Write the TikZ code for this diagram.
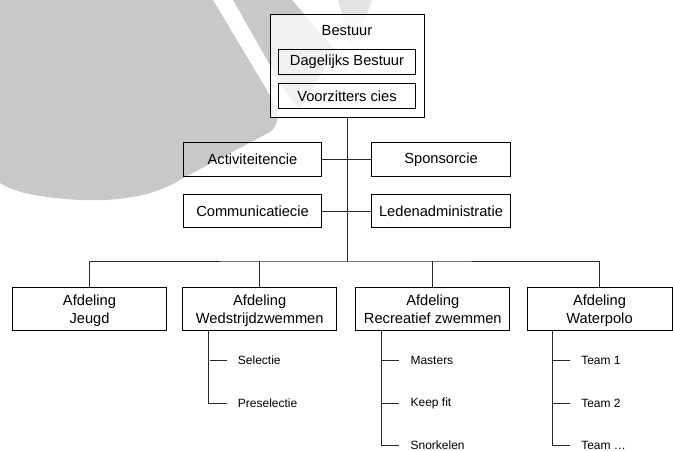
\documentclass[tikz,border=0pt]{standalone}
\usepackage{fontspec}
\setmainfont{Liberation Sans}
\usetikzlibrary{positioning}

\definecolor{wmark}{RGB}{200,200,200}
\definecolor{orgline}{RGB}{40,40,40}

\begin{document}
\begin{tikzpicture}[x=0.75pt,y=-0.75pt,
    box/.style={draw=black,line width=0.6pt,inner sep=0pt,align=center,
                font=\fontsize{11}{13.9}\selectfont},
    cie/.style={box,minimum width=103.9pt,minimum height=25.1pt},
    afd/.style={box,minimum width=115.5pt,minimum height=32.25pt,
                text height=21.9pt,text depth=0.3pt},
    item/.style={anchor=west,inner xsep=8.25pt,inner ysep=1pt,
                 font=\fontsize{9}{11}\selectfont},
    conn/.style={draw=orgline,line width=0.6pt}]
  \clip (0,0) rectangle (673,450);
  % watermark in the back
  \fill[wmark] (0,0) -- (213,0) -- (268,92) .. controls (278,110) and (282,122) .. (270,132)
    -- (183,178) .. controls (150,200) and (100,205) .. (40,196)
    .. controls (20,193) and (8,188) .. (0,183) -- cycle;
  \fill[wmark] (233,0) -- (292,0) -- (335,50) -- (300,110) -- (283,88) -- cycle;
  \fill[wmark,opacity=0.5] (338,0) -- (372,0) .. controls (365,20) and (358,35) .. (350,43) -- cycle;

  % board
  \node[box,fill=white,fill opacity=0.75,minimum width=115.5pt,minimum height=77pt,
        anchor=north] (bestuur) at (347,14.3) {};
  \node[font=\fontsize{11}{13.9}\selectfont] (bestuurlbl) at (347,30.7) {Bestuur};
  \node[box,minimum width=103pt,minimum height=19.1pt] (dagelijks) at (347,61.7) {Dagelijks Bestuur};
  \node[box,minimum width=103pt,minimum height=19.1pt] (voorzitters) at (347,95.9) {Voorzitters cies};

  % committees
  \node[cie] (activiteiten) at (252.5,159.5) {Activiteitencie};
  \node[cie] (sponsor) at (441,159.5) {Sponsorcie};
  \node[cie] (communicatie) at (252.5,211) {Communicatiecie};
  \node[cie] (leden) at (441,211) {Ledenadministratie};

  % departments
  \node[afd] (jeugd) at (89.5,309.2) {Afdeling\\Jeugd};
  \node[afd] (wedstrijd) at (259.7,309.2) {Afdeling\\Wedstrijdzwemmen};
  \node[afd] (recreatief) at (432.8,309.2) {Afdeling\\Recreatief zwemmen};
  \node[afd,minimum width=108.75pt] (waterpolo) at (599.5,309.2) {Afdeling\\Waterpolo};

  % groups
  \node[item] (selectie) at (226.7,360.7) {Selectie};
  \node[item] (preselectie) at (226.7,403.3) {Preselectie};
  \node[item] (masters) at (399.3,360.7) {Masters};
  \node[item] (keepfit) at (399.3,403.3) {Keep fit};
  \node[item] (snorkelen) at (399.3,445) {Snorkelen};
  \node[item] (team1) at (570,360.7) {Team 1};
  \node[item] (team2) at (570,403.3) {Team 2};
  \node[item] (teamx) at (570,445) {Team …};

  \coordinate (bus) at (347,261);

  \draw[conn] (bestuur.south) -- (bus);
  \draw[conn] (activiteiten.east) -- (sponsor.west);
  \draw[conn] (communicatie.east) -- (leden.west);
  \draw[conn] (jeugd.north) |- (bus) -| (waterpolo.north);
  \draw[conn] (wedstrijd.north) -- (wedstrijd.north |- bus);
  \draw[conn] (recreatief.north) -- (recreatief.north |- bus);

  \draw[conn] ([xshift=19.5pt]wedstrijd.south west) |- (preselectie.west);
  \draw[conn] (selectie.west) -- ++(-17,0);
  \draw[conn] ([xshift=19.5pt]recreatief.south west) |- (snorkelen.west);
  \draw[conn] (masters.west) -- ++(-18.3,0);
  \draw[conn] (keepfit.west) -- ++(-18.3,0);
  \draw[conn] ([xshift=19.5pt]waterpolo.south west) |- (teamx.west);
  \draw[conn] (team1.west) -- ++(-17.3,0);
  \draw[conn] (team2.west) -- ++(-17.3,0);
\end{tikzpicture}
\end{document}
